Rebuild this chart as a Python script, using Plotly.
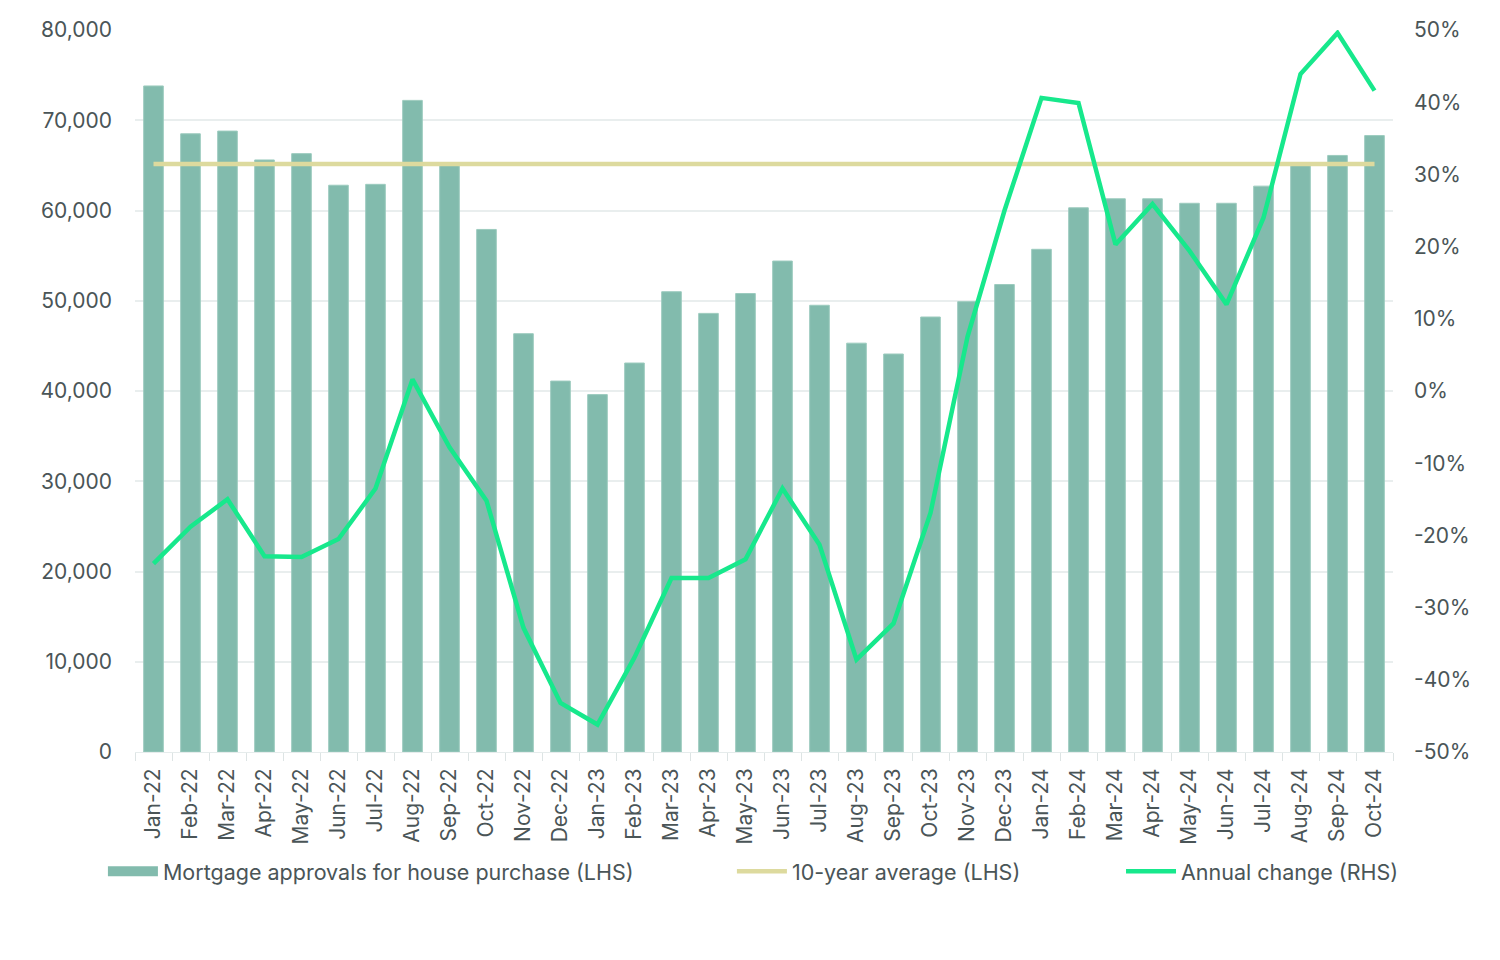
import plotly.graph_objects as go

months = ["Jan-22","Feb-22","Mar-22","Apr-22","May-22","Jun-22","Jul-22","Aug-22","Sep-22","Oct-22",
          "Nov-22","Dec-22","Jan-23","Feb-23","Mar-23","Apr-23","May-23","Jun-23","Jul-23","Aug-23",
          "Sep-23","Oct-23","Nov-23","Dec-23","Jan-24","Feb-24","Mar-24","Apr-24","May-24","Jun-24",
          "Jul-24","Aug-24","Sep-24","Oct-24"]

approvals = [73800, 68500, 68800, 65600, 66300, 62800, 62900, 72200, 65000, 57900,
             46350, 41100, 39600, 43100, 51000, 48600, 50800, 54400, 49500, 45300,
             44100, 48200, 49900, 51800, 55700, 60300, 61300, 61300, 60800, 60800,
             62700, 65000, 66100, 68300]

ten_year_average = 65150

annual_change = [-23.9, -18.8, -15.0, -22.9, -23.0, -20.5, -13.5, 1.6, -7.8, -15.2,
                 -32.8, -43.2, -46.2, -36.9, -25.9, -25.9, -23.3, -13.5, -21.3, -37.2,
                 -32.2, -16.9, 7.5, 25.0, 40.6, 39.9, 20.3, 25.9, 19.4, 12.0,
                 24.0, 43.9, 49.6, 41.6]

rhs_tickvals = [-50, -40, -30, -20, -10, 0, 10, 20, 30, 40, 50]
rhs_ticktext = ["-50%", "-40%", "-30%", "-20%", "-10%", "0%", "10%", "20%", "30%", "40%", "50%"]

BAR = "#82bbad"
AVG = "#ddda9e"
CHG = "#17e88c"
TXT = "#4a5557"
GRID = "#e9eeee"
FONT = "Inter, Lato, sans-serif"

fig = go.Figure()

fig.add_trace(go.Bar(
    x=months, y=approvals, name="Mortgage approvals for house purchase (LHS)",
    marker=dict(color=BAR, line=dict(color="#9ccbbe", width=1)),
    showlegend=False, yaxis="y",
))
# legend entry drawn as a wide block
fig.add_trace(go.Scatter(
    x=[None], y=[None], mode="lines", name="Mortgage approvals for house purchase (LHS)",
    line=dict(color=BAR, width=14), legend="legend", yaxis="y",
))
fig.add_trace(go.Scatter(
    x=months, y=[ten_year_average] * len(months), mode="lines", name="10-year average (LHS)",
    line=dict(color=AVG, width=4.5), legend="legend2", yaxis="y",
))
fig.add_trace(go.Scatter(
    x=months, y=annual_change, mode="lines", name="Annual change (RHS)",
    line=dict(color=CHG, width=4.5), legend="legend3", yaxis="y2",
))

legend_common = dict(orientation="h", yanchor="middle", y=-0.1652, xanchor="left",
                     font=dict(family=FONT, size=21.5, color=TXT), bgcolor="rgba(0,0,0,0)",
                     itemwidth=50, tracegroupgap=0)

fig.update_layout(
    width=1500, height=960,
    margin=dict(l=135, r=107, t=30, b=208),
    paper_bgcolor="white", plot_bgcolor="white",
    font=dict(family=FONT, size=20, color=TXT),
    bargap=0.47,
    legend=dict(x=-0.0255, **legend_common),
    legend2=dict(x=0.4745, **legend_common),
    legend3=dict(x=0.7838, **legend_common),
    xaxis=dict(
        type="category", tickangle=-90, tickson="boundaries", ticks="outside",
        ticklen=8, tickcolor="#dde4e4", showline=True, linecolor="#e6ecec", linewidth=1,
        showgrid=False, ticklabelstandoff=7, tickfont=dict(family=FONT, size=21, color=TXT),
    ),
    yaxis=dict(
        range=[0, 80000], dtick=10000, tickformat=",", showgrid=True, gridcolor=GRID,
        gridwidth=1.5, zeroline=False, ticks="", ticklabelstandoff=22,
        tickfont=dict(family=FONT, size=21, color=TXT),
    ),
    yaxis2=dict(
        range=[-50, 50], overlaying="y", side="right", tickvals=rhs_tickvals,
        ticktext=rhs_ticktext, showgrid=False, zeroline=False, ticks="",
        ticklabelstandoff=20, tickfont=dict(family=FONT, size=21, color=TXT),
    ),
)

fig.write_html("out.html")
